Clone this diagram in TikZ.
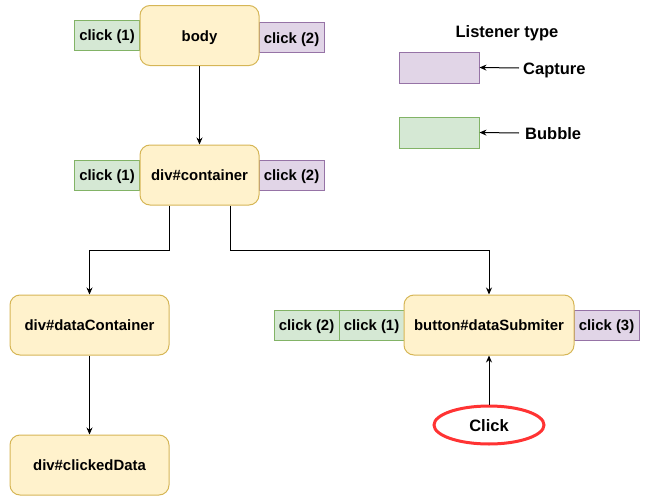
\documentclass[tikz,border=0pt]{standalone}
\usepackage{fontspec}
\setmainfont{Liberation Sans}
\usetikzlibrary{arrows.meta,shapes.geometric}
\definecolor{yfill}{HTML}{FFF2CC}
\definecolor{ydraw}{HTML}{D6B656}
\definecolor{gfill}{HTML}{D5E8D4}
\definecolor{gdraw}{HTML}{82B366}
\definecolor{pfill}{HTML}{E1D5E7}
\definecolor{pdraw}{HTML}{9673A6}
\definecolor{redline}{HTML}{FF3333}
\tikzset{
  every node/.style={font=\fontsize{14.9}{16}\selectfont\bfseries, inner sep=1pt, text height=11pt, text depth=0pt},
  elem/.style={draw=ydraw, fill=yfill, line width=1pt, rounded corners=10pt, minimum height=60pt},
  bubbox/.style={draw=gdraw, fill=gfill, line width=1pt, minimum width=65pt, minimum height=30pt},
  capbox/.style={draw=pdraw, fill=pfill, line width=1pt, minimum width=65pt, minimum height=30pt},
  big/.style={font=\fontsize{16.5}{18}\selectfont\bfseries, text height=12pt, text depth=0pt},
  arr/.style={line width=1pt, -{Stealth[length=7pt,width=6pt]}},
}
\begin{document}
\begin{tikzpicture}[x=1pt,y=-1pt]
\useasboundingbox (0,0) rectangle (649,501);
% labels
\node[bubbox] (b1) at (107,35) {click (1)};
\node[capbox] (b2) at (291.5,37.5) {click (2)};
\node[bubbox] (c1) at (107,175) {click (1)};
\node[capbox] (c2) at (291.5,175) {click (2)};
\node[bubbox] (s2) at (306.5,325) {click (2)};
\node[bubbox] (s1) at (371.5,325) {click (1)};
\node[capbox] (s3) at (606.5,325) {click (3)};
% elements
\node[elem, minimum width=119pt] (body) at (199.5,35.5) {body};
\node[elem, minimum width=119pt] (container) at (199.5,175) {div\#container};
\node[elem, minimum width=159pt] (dataContainer) at (89.5,325) {div\#dataContainer};
\node[elem, minimum width=159pt] (clickedData) at (89.5,465) {div\#clickedData};
\node[elem, minimum width=170pt] (button) at (489,325) {button\#dataSubmiter};
\node[ellipse, draw=redline, line width=3pt, fill=white, minimum width=110pt, minimum height=38pt, big] (click) at (489,425) {Click};
% legend
\node[big] (title) at (507,31) {Listener type};
\node[capbox, minimum width=80pt, minimum height=31pt] (lcap) at (439,67.5) {};
\node[bubbox, minimum width=80pt, minimum height=31pt] (lbub) at (439,132.5) {};
\node[big, anchor=west, inner xsep=4pt] (tcap) at (519,68) {Capture};
\node[big, anchor=west, inner xsep=6pt] (tbub) at (519,133) {Bubble};
% connectors
\draw[arr] (body) -- (container);
\draw[arr] ([xshift=-30.5pt]container.south) -- ++(0,45) -| (dataContainer.north);
\draw[arr] ([xshift=30.5pt]container.south) -- ++(0,45) -| (button.north);
\draw[arr] (dataContainer) -- (clickedData);
\draw[arr] (click) -- (button);
\draw[arr] (tcap.west) -- (lcap.east);
\draw[arr] (tbub.west) -- (lbub.east);
\end{tikzpicture}
\end{document}
